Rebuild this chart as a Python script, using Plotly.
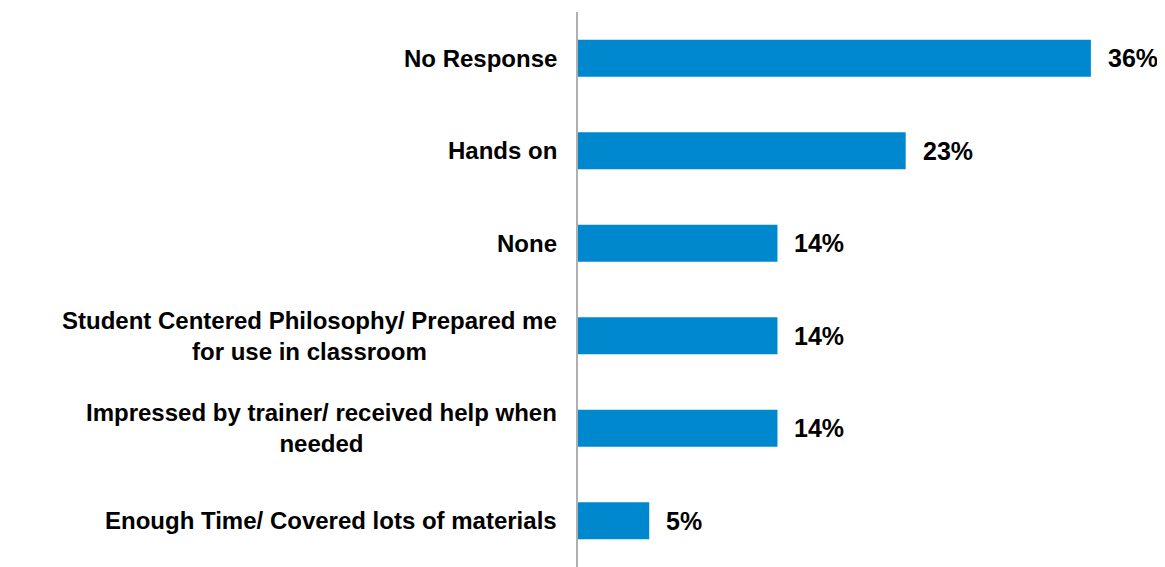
"""Horizontal bar chart of what respondents liked most"""
import plotly.graph_objs as go

# data
categories = [
    "No Response",
    "Hands on",
    "None",
    "Student Centered Philosophy/ Prepared me<br>for use in classroom",
    "Impressed by trainer/ received help when<br>needed",
    "Enough Time/ Covered lots of materials",
]
values = [36, 23, 14, 14, 14, 5]
value_labels = ["36%", "23%", "14%", "14%", "14%", "5%"]

font_family = "Liberation Sans, Arial, sans-serif"

trace0 = go.Bar(
    x=values,
    y=categories,
    orientation="h",
    marker=dict(color="#0088CF", line=dict(width=0)),
    hoverinfo="skip",
)

annotations = []
# category labels, centred lines, right-aligned block
for cat in categories:
    annotations.append(dict(
        x=0, y=cat, xref="x", yref="y",
        text="<b>" + cat + "</b>",
        showarrow=False, xanchor="right", yanchor="middle",
        align="center", xshift=-19,
        font=dict(family=font_family, size=24, color="#000000"),
    ))
# value labels
for cat, v, lab in zip(categories, values, value_labels):
    annotations.append(dict(
        x=v, y=cat, xref="x", yref="y",
        text="<b>" + lab + "</b>",
        showarrow=False, xanchor="left", yanchor="middle",
        xshift=15,
        font=dict(family=font_family, size=25, color="#000000"),
    ))

# page body has an 8px margin, so size the figure to fit inside the window
layout = go.Layout(
    width=1157,
    height=559,
    margin=dict(l=570, r=0, t=4, b=0),
    paper_bgcolor="white",
    plot_bgcolor="white",
    showlegend=False,
    bargap=0.6,
    xaxis=dict(range=[0, 41.2], visible=False, fixedrange=True),
    yaxis=dict(
        categoryorder="array",
        categoryarray=categories,
        autorange="reversed",
        showticklabels=False,
        showgrid=False,
        zeroline=False,
        showline=True,
        linecolor="#B0B0B0",
        linewidth=2,
        ticks="",
    ),
    annotations=annotations,
)

fig = go.Figure(data=[trace0], layout=layout)
fig.write_html("out.html")
